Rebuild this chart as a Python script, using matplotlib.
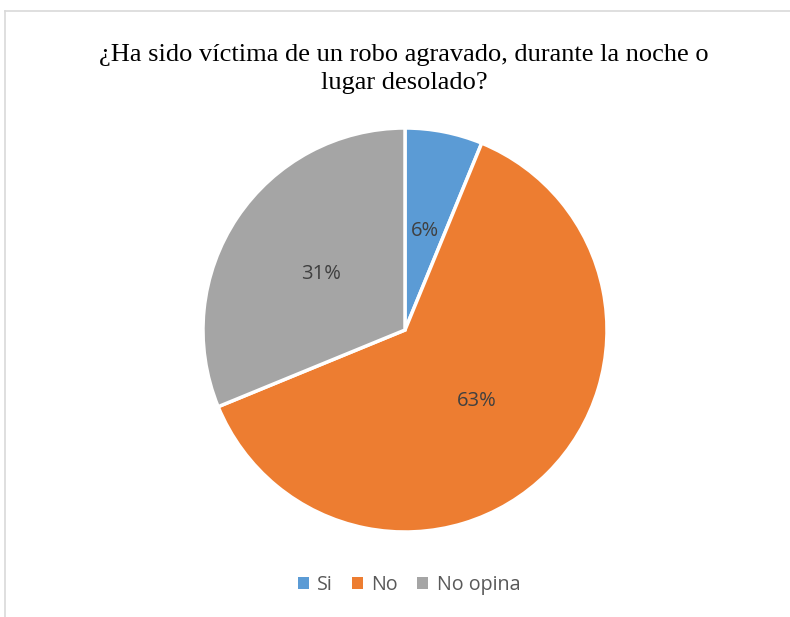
import matplotlib
matplotlib.use("Agg")
import matplotlib.pyplot as plt
from matplotlib.lines import Line2D
from matplotlib.patches import Patch
import numpy as np

categories = ["Si", "No", "No opina"]
values = [6.2, 62.6, 31.2]
labels_pct = ["6%", "63%", "31%"]
colors = ["#5B9BD5", "#ED7D31", "#A5A5A5"]
title = "¿Ha sido víctima de un robo agravado, durante la noche o\nlugar desolado?"

W, H = 790, 617
fig = plt.figure(figsize=(W/100, H/100), dpi=100)
fig.patch.set_facecolor("white")

# chart border (top and left visible)
fig.add_artist(Line2D([5/W, 1], [1-11/H, 1-11/H], color="#D9D9D9", lw=1.2))
fig.add_artist(Line2D([5/W, 5/W], [0, 1-11/H], color="#D9D9D9", lw=1.2))

cx, cy, r = 405, 330, 202
ax = fig.add_axes([(cx-r)/W, (H-cy-r)/H, 2*r/W, 2*r/H])
wedges, _ = ax.pie(values, colors=colors, startangle=90, counterclock=False,
                   radius=1, wedgeprops=dict(edgecolor="white", linewidth=2.5))
cum = 0
tot = sum(values)
for v, lab in zip(values, labels_pct):
    mid = 90 - (cum + v/2)/tot*360
    cum += v
    ax.text(0.5*np.cos(np.radians(mid)), 0.5*np.sin(np.radians(mid)), lab,
            ha="center", va="center", fontsize=14.5, color="#404040",
            family=["Open Sans", "DejaVu Sans"])
ax.set_xlim(-1, 1)
ax.set_ylim(-1, 1)
ax.set_aspect("equal")
ax.axis("off")

fig.text(404/W, 1-69/H, title, ha="center", va="center", fontsize=19,
         family=["Liberation Serif", "DejaVu Serif"], color="black", linespacing=1.4)

handles = [Patch(facecolor=c, edgecolor="none") for c in colors]
fig.legend(handles, categories, loc="center", bbox_to_anchor=(409/W, 1-585/H),
           ncol=3, frameon=False, handlelength=0.55, handleheight=0.55,
           handletextpad=0.45, columnspacing=0.95,
           prop=dict(family=["Open Sans", "DejaVu Sans"], size=14.2),
           labelcolor="#595959")

fig.savefig("out.png", dpi=100)
